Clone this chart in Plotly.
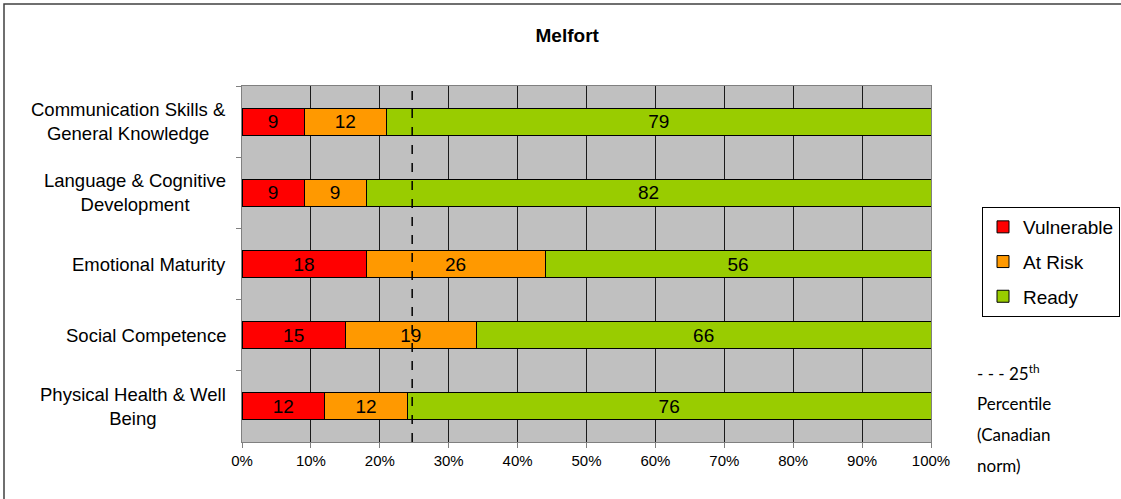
import plotly.graph_objects as go

categories = [
    "Communication Skills &<br>General Knowledge",
    "Language & Cognitive<br>Development",
    "Emotional Maturity",
    "Social Competence",
    "Physical Health & Well<br>Being",
]
vulnerable = [9, 9, 18, 15, 12]
at_risk = [12, 9, 26, 19, 12]
ready = [79, 82, 56, 66, 76]
percentile_25 = 24.7
x_ticks = list(range(0, 101, 10))
x_tick_labels = [f"{v}%" for v in x_ticks]

series = [
    ("Vulnerable", vulnerable, "#FF0000"),
    ("At Risk", at_risk, "#FF9900"),
    ("Ready", ready, "#99CC00"),
]

fig = go.Figure()
for i, (name, vals, color) in enumerate(series):
    fig.add_trace(go.Bar(
        y=categories, x=vals, name=name, orientation="h",
        marker=dict(color=color, line=dict(color="#000000", width=1)),
        text=[str(v) for v in vals], textposition="inside",
        insidetextanchor="middle", constraintext="none",
        textfont=dict(family="Liberation Sans, Arial", size=19, color="#000000"),
        legendgroup=f"g{i}", width=0.38,
    ))

L, R, T, B = 242, 190, 86, 57
W, H = 1121, 499
pw, ph = W - L - R, H - T - B

def px_x(p):
    return (p - L) / pw

def px_y(p):
    return (H - B - p) / ph

fig.update_layout(
    barmode="stack",
    width=W, height=H,
    margin=dict(l=L, r=R, t=T, b=B, autoexpand=False),
    paper_bgcolor="#FFFFFF",
    plot_bgcolor="#C0C0C0",
    title=dict(text="<b>Melfort</b>", x=0.506, xref="container",
               y=1 - 35 / H, yref="container", xanchor="center", yanchor="middle",
               font=dict(family="Liberation Sans, Arial", size=19, color="#000000")),
    font=dict(family="Liberation Sans, Arial", color="#000000"),
    xaxis=dict(range=[0, 100], tickvals=x_ticks, ticktext=x_tick_labels,
               showgrid=True, gridcolor="#1a1a1a", gridwidth=1,
               showline=True, linecolor="#808080", linewidth=1, mirror=True,
               ticks="outside", ticklen=5, tickcolor="#808080",
               tickfont=dict(size=15, color="#000000"), zeroline=False, fixedrange=True),
    yaxis=dict(autorange="reversed", tickson="boundaries", ticks="outside", ticklen=5,
               tickcolor="#808080", showline=True, linecolor="#808080", linewidth=1,
               mirror=True, showgrid=False, showticklabels=False),
    legend=dict(x=px_x(982), y=px_y(207), xanchor="left", yanchor="top",
                bgcolor="#FFFFFF", bordercolor="#000000", borderwidth=1,
                font=dict(family="Liberation Sans, Arial", size=19, color="#000000"),
                tracegroupgap=7, traceorder="grouped", itemwidth=30),
    showlegend=True,
)

# category labels, centre-aligned like the original
for cat in categories:
    fig.add_annotation(text=cat, xref="paper", yref="y", x=px_x(228), y=cat,
                       xanchor="right", yanchor="middle", align="center",
                       showarrow=False,
                       font=dict(family="Liberation Sans, Arial", size=18.5, color="#000000"))

fig.add_shape(type="line", xref="x", yref="paper", x0=percentile_25, x1=percentile_25,
              y0=0, y1=1, line=dict(color="#000000", width=1.5, dash="dash"))

fig.add_shape(type="rect", xref="paper", yref="paper",
              x0=px_x(4), x1=px_x(1140), y0=px_y(520), y1=px_y(4),
              line=dict(color="#404040", width=1.5), fillcolor="rgba(0,0,0,0)", layer="below")

note_lines = ["- - - 25<sup>th</sup>", "Percentile", "(Canadian", "norm)"]
note_y = [372, 403, 434, 465]
for txt, yy in zip(note_lines, note_y):
    fig.add_annotation(text=txt, xref="paper", yref="paper", x=px_x(975), y=px_y(yy),
                       xanchor="left", yanchor="middle", showarrow=False,
                       font=dict(family="Lato, Open Sans", size=17, color="#000000"))

fig.write_html(
    "out.html",
    config={"displayModeBar": False},
    post_script="document.body.style.margin='0';document.body.style.overflow='hidden';",
)
